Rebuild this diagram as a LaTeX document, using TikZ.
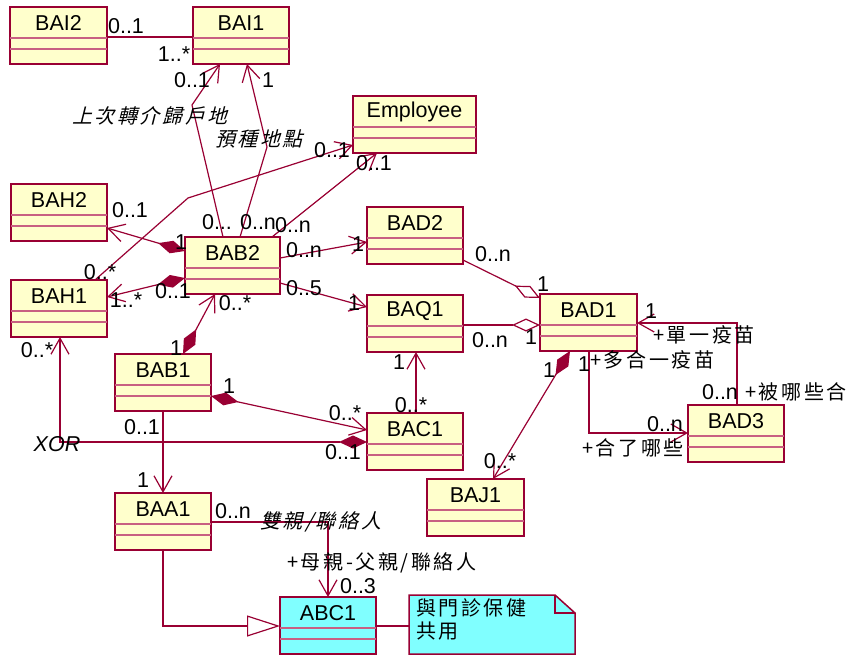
\documentclass[tikz,border=0pt]{standalone}
\usepackage{fontspec}
\setmainfont{Liberation Sans}
\newfontfamily\cjk[LetterSpace=13]{Noto Sans CJK TC}
\newfontfamily\cjkit[LetterSpace=13,FakeSlant=0.25]{Noto Sans CJK TC}
\usetikzlibrary{arrows.meta,calc}

\definecolor{umlline}{RGB}{153,0,51}
\definecolor{umlfill}{RGB}{255,255,204}
\definecolor{umlcyan}{RGB}{128,255,255}
\definecolor{umlsep}{RGB}{200,96,130}

\tikzset{
  clsbox/.style={draw=umlline, line width=1.5pt, rectangle, minimum height=57pt,
    inner sep=0pt, outer sep=0pt, anchor=north west},
  clsname/.style={inner sep=0pt, font=\fontsize{21.5}{25}\selectfont},
  compline/.style={draw=umlsep, line width=1.1pt},
  conn/.style={draw=umlline, line width=1.2pt},
  mult/.style={inner sep=0pt, font=\fontsize{21.5}{25}\selectfont},
  role/.style={inner sep=0pt, anchor=west, font=\fontsize{20}{24}\cjk},
  roleit/.style={inner sep=0pt, anchor=west, font=\fontsize{20}{24}\cjkit},
  navtip/.tip={Straight Barb[length=16pt,width=18pt]},
  comptip/.tip={Diamond[length=28pt,width=13pt,fill=umlline]},
  aggtip/.tip={Diamond[length=28pt,width=13pt,fill=white]},
  gentip/.tip={Triangle[length=33pt,width=21pt,fill=white]},
}

% class box: optional fill, name, top-left corner, width, title
\newcommand\umlclass[5][umlfill]{%
  \node[clsbox, fill=#1, minimum width=#4pt] (#2) at (#3) {};
  \node[clsname] (#2-title) at ($(#2.north)+(0,16)$) {#5};
  \draw[compline] ($(#2.north west)+(0,31)$) -- ($(#2.north east)+(0,31)$);
  \draw[compline] ($(#2.north west)+(0,42)$) -- ($(#2.north east)+(0,42)$);
}

\begin{document}
\begin{tikzpicture}[x=1pt,y=-1pt]
\fill[white] (0,0) rectangle (852,657);
\useasboundingbox (0,0) rectangle (852,657);

% classes
\umlclass{BAI2}{10,7}{97}{BAI2}
\umlclass{BAI1}{193,7}{96}{BAI1}
\umlclass{Employee}{353,96}{123}{Employee}
\umlclass{BAD2}{367,207}{96}{BAD2}
\umlclass{BAH2}{11,184}{96}{BAH2}
\umlclass{BAB2}{185,237}{95}{BAB2}
\umlclass{BAH1}{11,280}{96}{BAH1}
\umlclass{BAQ1}{367,295}{96}{BAQ1}
\umlclass{BAD1}{540,294}{97}{BAD1}
\umlclass{BAD3}{688,405}{96}{BAD3}
\umlclass{BAB1}{115,354}{96}{BAB1}
\umlclass{BAC1}{367,413}{96}{BAC1}
\umlclass{BAJ1}{427,479}{97}{BAJ1}
\umlclass{BAA1}{115,493}{96}{BAA1}
\umlclass[umlcyan]{ABC1}{280,597}{96}{ABC1}

% note with folded corner
\node[inner sep=0pt, outer sep=0pt, minimum width=166pt, minimum height=59pt,
  anchor=north west] (note) at (409,595) {};
\draw[draw=umlline, line width=1.5pt, fill=umlcyan]
  (note.north west) -- ($(note.north east)+(-20,0)$) -- ($(note.north east)+(0,18)$)
  -- (note.south east) -- (note.south west) -- cycle;
\draw[draw=umlline, line width=1.1pt]
  ($(note.north east)+(-20,0)$) -- ($(note.north east)+(-20,18)$) -- ($(note.north east)+(0,18)$);
\node[inner sep=0pt, anchor=north west, align=left,
  font=\fontsize{20}{23}\cjk] (notetext) at (416,598) {與門診保健\\共用};

% bend points
\coordinate (kA) at (192,105);
\coordinate (kB) at (267,147);
\coordinate (kC) at (188,198);

% connectors
\draw[conn] ($(BAI2.north east)+(0,30)$) -- ($(BAI1.north west)+(0,30)$);
\draw[conn, arrows={-navtip}] ($(BAB2.north west)+(38,0)$) -- (kA) -- ($(BAI1.south west)+(27,0)$);
\draw[conn, arrows={-navtip}] ($(BAB2.north west)+(55,0)$) -- (kB) -- ($(BAI1.south west)+(54,0)$);
\draw[conn, arrows={-navtip}] ($(BAH1.north west)+(84,0)$) -- (kC) -- ($(Employee.south west)+(0,-8)$);
\draw[conn, arrows={-navtip}] ($(BAB2.north east)+(-8,0)$) -- ($(Employee.south west)+(24,0)$);
\draw[conn, arrows={comptip-navtip}] ($(BAB2.north west)+(0,14)$) -- ($(BAH2.north east)+(0,44)$);
\draw[conn, arrows={comptip-navtip}] ($(BAB2.north west)+(0,41)$) -- ($(BAH1.north east)+(0,17)$);
\draw[conn, arrows={comptip-navtip}] ($(BAB1.north west)+(68,0)$) -- ($(BAB2.south west)+(30,0)$);
\draw[conn, arrows={-navtip}] ($(BAB2.north east)+(0,21)$) -- ($(BAD2.north west)+(0,35)$);
\draw[conn, arrows={-navtip}] ($(BAB2.north east)+(0,46)$) -- ($(BAQ1.north west)+(0,12)$);
\draw[conn, arrows={-aggtip}] ($(BAD2.south east)+(0,-4)$) -- ($(BAD1.north west)+(0,4)$);
\draw[conn, arrows={-aggtip}] ($(BAQ1.north east)+(0,30)$) -- ($(BAD1.north west)+(0,31)$);
\draw[conn, arrows={-navtip}] ($(BAC1.north west)+(49,0)$) -- ($(BAQ1.south west)+(49,0)$);
\draw[conn, arrows={comptip-navtip}] ($(BAD1.south west)+(30,0)$) -- ($(BAJ1.north west)+(66,0)$);
\draw[conn, arrows={-navtip}] ($(BAD3.north west)+(49,0)$) |- ($(BAD1.north east)+(0,29)$);
\draw[conn, arrows={-navtip}] ($(BAD1.south west)+(49,0)$) |- ($(BAD3.north west)+(0,28)$);
\draw[conn, arrows={comptip-navtip}] ($(BAB1.north east)+(0,42)$) -- ($(BAC1.north west)+(0,17)$);
\draw[conn, arrows={comptip-navtip}] ($(BAC1.north west)+(0,29)$) -| ($(BAH1.south west)+(49,0)$);
\draw[conn, arrows={-navtip}] ($(BAB1.south west)+(48,0)$) -- ($(BAA1.north west)+(48,0)$);
\draw[conn, arrows={-navtip}] ($(BAA1.north east)+(0,29)$) -| ($(ABC1.north west)+(48,0)$);
\draw[conn, arrows={-gentip}] ($(BAA1.south west)+(48,0)$) |- ($(ABC1.north west)+(0,29)$);
\draw[conn] ($(ABC1.north east)+(0,29)$) -- ($(note.north west)+(0,31)$);

% multiplicities
\node[mult] (m01) at (126,26) {0..1};
\node[mult] (m02) at (174,54) {1..*};
\node[mult] (m03) at (192,80) {0..1};
\node[mult] (m04) at (268,80) {1};
\node[mult] (m05) at (332,150) {0..1};
\node[mult] (m06) at (374,163) {0..1};
\node[mult] (m07) at (130,210) {0..1};
\node[mult] (m08) at (181,242) {1};
\node[mult] (m09) at (100,272) {0..*};
\node[mult] (m10) at (126,300) {1..*};
\node[mult] (m11) at (173,291) {0..1};
\node[mult] (m12) at (217,222) {0...};
\node[mult] (m13) at (258,222) {0..n};
\node[mult] (m14) at (293,225) {0..n};
\node[mult] (m15) at (304,250) {0..n};
\node[mult] (m16) at (358,244) {1};
\node[mult] (m17) at (304,288) {0..5};
\node[mult] (m18) at (354,303) {1};
\node[mult] (m19) at (493,254) {0..n};
\node[mult] (m20) at (543,284) {1};
\node[mult] (m21) at (490,340) {0..n};
\node[mult] (m22) at (531,337) {1};
\node[mult] (m23) at (399,362) {1};
\node[mult] (m24) at (411,405) {0..*};
\node[mult] (m25) at (549,370) {1};
\node[mult] (m26) at (500,461) {0..*};
\node[mult] (m27) at (651,311) {1};
\node[mult] (m28) at (720,392) {0..n};
\node[mult] (m29) at (584,364) {1};
\node[mult] (m30) at (665,424) {0..n};
\node[mult] (m31) at (176,348) {1};
\node[mult] (m32) at (235,303) {0..*};
\node[mult] (m33) at (229,386) {1};
\node[mult] (m34) at (345,413) {0..*};
\node[mult] (m35) at (37,350) {0..*};
\node[mult] (m36) at (343,452) {0..1};
\node[mult] (m37) at (142,427) {0..1};
\node[mult] (m38) at (143,480) {1};
\node[mult] (m39) at (233,511) {0..n};
\node[mult] (m40) at (358,586) {0..3};

% role names and constraints
\node[roleit] (r01) at (72,116) {上次轉介歸戶地};
\node[roleit] (r02) at (215,139) {預種地點};
\node[role] (r03) at (653,335) {+單一疫苗};
\node[role] (r04) at (745,392) {+被哪些合};
\node[role] (r05) at (590,360) {+多合一疫苗};
\node[role] (r06) at (582,448) {+合了哪些};
\node[roleit] (r07) at (260,522) {雙親/聯絡人};
\node[role] (r08) at (287,563) {+母親-父親/聯絡人};
\node[inner sep=0pt, font=\fontsize{21.5}{25}\selectfont\itshape] (xor) at (57,444) {XOR};
\end{tikzpicture}
\end{document}
